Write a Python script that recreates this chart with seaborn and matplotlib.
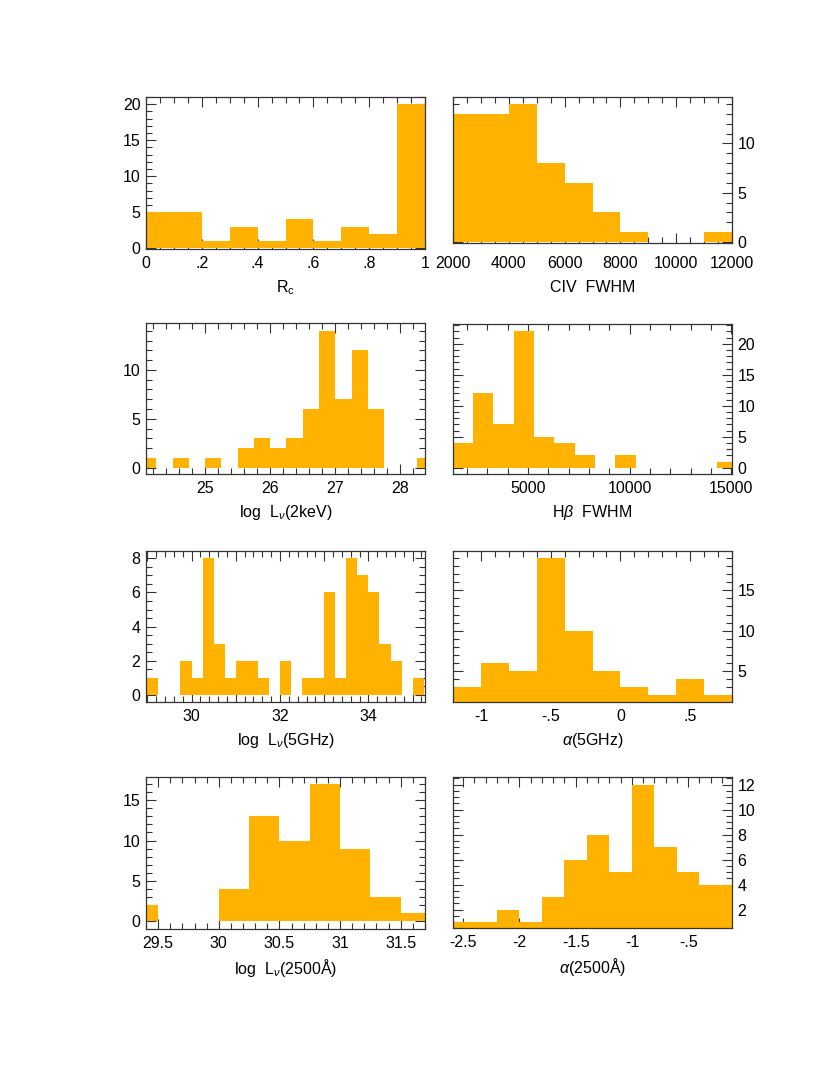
import numpy as np
import pandas as pd
import matplotlib
matplotlib.use("Agg")
import matplotlib.pyplot as plt
from matplotlib.ticker import MultipleLocator, FuncFormatter
import seaborn as sns

# Counts per bin; each histogram gets (first bin edge, bin width)
rc_counts = [5, 5, 1, 3, 1, 4, 1, 3, 2, 20]
rc_bins = (0.0, 0.1)

civ_counts = [13, 13, 14, 8, 6, 3, 1, 0, 0, 1]
civ_bins = (2000, 1000)

lx_counts = [1, 0, 1, 0, 1, 0, 2, 3, 2, 3, 6, 14, 7, 12, 6, 0, 0, 1]
lx_bins = (24.0, 0.25)

hb_counts = [4, 12, 7, 22, 5, 4, 2, 0, 2, 0, 0, 0, 0, 1]
hb_bins = (1300, 1000)

lr_counts = [1, 0, 0, 2, 1, 8, 3, 1, 2, 2, 1, 0, 2, 0, 1, 1, 6, 1, 8, 7, 6, 3, 2, 0, 1]
lr_bins = (29.0, 0.25)

ar_counts = [3, 6, 5, 19, 10, 5, 3, 2, 4, 2]
ar_bins = (-1.2, 0.2)

lo_counts = [2, 0, 0, 4, 13, 10, 17, 9, 3, 1]
lo_bins = (29.25, 0.25)

ao_counts = [1, 1, 2, 1, 3, 6, 8, 5, 12, 7, 5, 4, 4]
ao_bins = (-2.6, 0.2)

ORANGE = "#FFB300"
W, H = 830, 1075
FS = 11.5

sns.set_theme(style="ticks")
plt.rcParams["font.family"] = ["Liberation Sans", "DejaVu Sans"]
plt.rcParams["mathtext.fontset"] = "custom"
plt.rcParams["mathtext.rm"] = "Liberation Sans"
plt.rcParams["mathtext.it"] = "Liberation Sans:italic"
plt.rcParams["axes.unicode_minus"] = False
plt.rcParams["text.color"] = "black"
plt.rcParams["axes.labelcolor"] = "black"


def short(v, pos=None):
    v = round(v, 6)
    if v == 0:
        return "0"
    s = f"{v:g}"
    if s.startswith("0."):
        s = s[1:]
    return s.replace("-0.", "-.")


def even_only(v, pos=None):
    return short(v) if round(v) % 2 == 0 else ""


# (counts, bins, xlabel, xlim, ylim, x major/minor, y major/minor, right side?, frame px l,r,t,b, x formatter)
panels = [
    (rc_counts, rc_bins, r"R$_\mathrm{c}$", (0, 1), (-0.1, 21.0), (0.2, 0.05), (5, 1), False, (146, 425, 97, 249), short),
    (civ_counts, civ_bins, "CIV  FWHM", (2000, 12000), (-0.1, 14.7), (2000, 500), (5, 1), True, (453, 732, 97, 243), short),
    (lx_counts, lx_bins, r"log  L$_\nu$(2keV)", (24.09, 28.38), (-0.65, 14.8), (1, 0.2), (5, 1), False, (146, 425, 323, 474), short),
    (hb_counts, hb_bins, r"H$\beta$  FWHM", (1310, 15030), (-1.0, 23.2), (5000, 1000), (5, 1), True, (453, 732, 324, 474), short),
    (lr_counts, lr_bins, r"log  L$_\nu$(5GHz)", (28.97, 35.28), (-0.42, 8.43), (1, 0.2), (2, 0.5), False, (146, 425, 551, 702), even_only),
    (ar_counts, ar_bins, r"$\alpha$(5GHz)", (-1.2, 0.8), (1.12, 19.9), (0.5, 0.1), (5, 1), True, (453, 732, 551, 702), short),
    (lo_counts, lo_bins, r"log  L$_\nu$(2500Å)", (29.4, 31.7), (-0.95, 17.86), (0.5, 0.1), (5, 1), False, (146, 425, 777, 929), short),
    (ao_counts, ao_bins, r"$\alpha$(2500Å)", (-2.59, -0.11), (0.53, 12.6), (0.5, 0.1), (2, 0.5), True, (453, 732, 777, 928), short),
]

fig = plt.figure(figsize=(W / 100, H / 100), dpi=100)

for counts, (start, width), label, xlim, ylim, xt, yt, right, (l, r, t, b), fmt in panels:
    ax = fig.add_axes([l / W, 1 - b / H, (r - l) / W, (b - t) / H])
    n = len(counts)
    edges = start + width * np.arange(n + 1)
    df = pd.DataFrame({"x": edges[:-1] + width / 2, "n": counts})
    sns.histplot(data=df, x="x", weights="n", bins=list(edges), ax=ax,
                 color=ORANGE, alpha=1, linewidth=0)
    ax.set_xlim(*xlim)
    ax.set_ylim(*ylim)
    ax.set_ylabel("")
    ax.xaxis.set_major_locator(MultipleLocator(xt[0]))
    ax.xaxis.set_minor_locator(MultipleLocator(xt[1]))
    ax.yaxis.set_major_locator(MultipleLocator(yt[0]))
    ax.yaxis.set_minor_locator(MultipleLocator(yt[1]))
    ax.xaxis.set_major_formatter(FuncFormatter(fmt))
    ax.yaxis.set_major_formatter(FuncFormatter(short))

    # top row frames end at different heights, but their tick labels line up
    drop = (249 - b) if t < 200 else 0
    ax.tick_params(which="both", direction="in", top=True, bottom=True,
                   left=True, right=True, colors="#333333", width=0.8,
                   labelsize=FS, labelcolor="black")
    ax.tick_params(which="major", length=7)
    ax.tick_params(which="minor", length=4)
    ax.tick_params(axis="x", pad=5 + drop * 0.72)
    ax.tick_params(axis="y", pad=4, labelleft=not right, labelright=right)
    for sp in ax.spines.values():
        sp.set_color("#333333")
        sp.set_linewidth(0.9)
    ax.set_xlabel(label, fontsize=FS, va="center", color="black")
    ax.xaxis.set_label_coords(0.5, -(39 + drop) / (b - t))

fig.savefig("out.png", dpi=100)
